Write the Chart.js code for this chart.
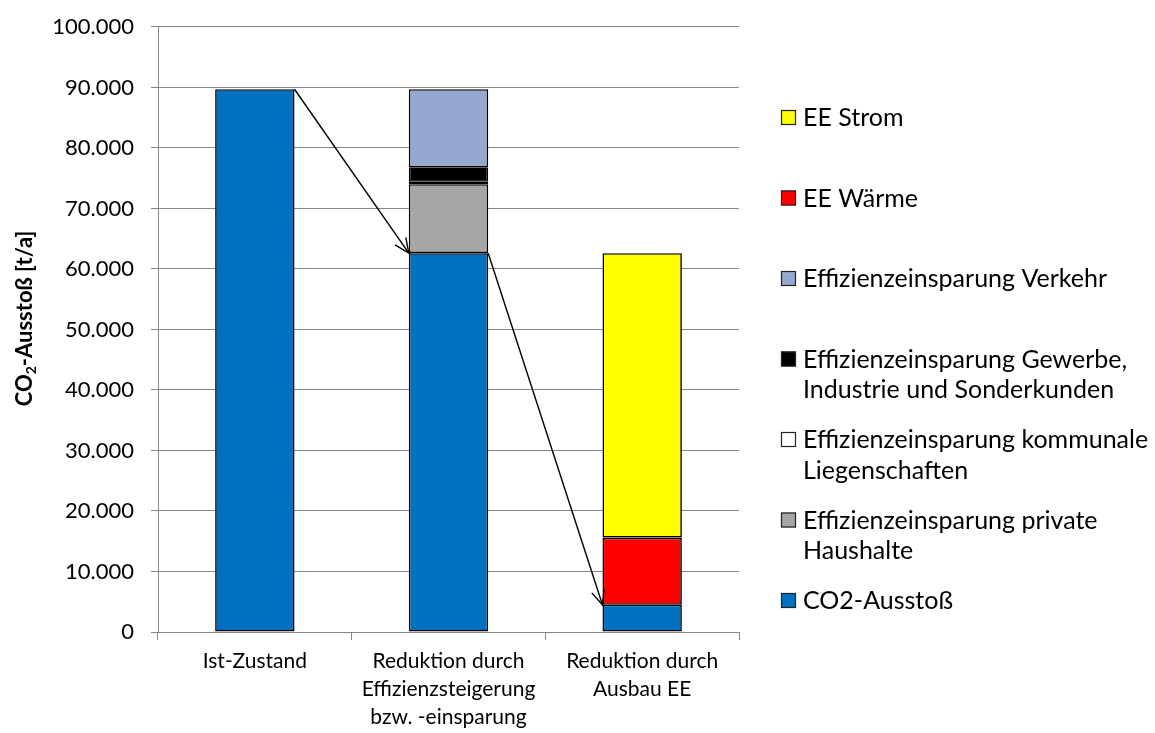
<!DOCTYPE html>
<html>
<head>
<meta charset="utf-8">
<script src="https://cdn.jsdelivr.net/npm/chart.js@4/dist/chart.umd.min.js"></script>
<style>
  html, body { margin: 0; padding: 0; background: #ffffff; }
  #wrap { width: 1155px; height: 733px; }
</style>
</head>
<body>
<div id="wrap"><canvas id="c" width="1155" height="733"></canvas></div>
<script>
// ---- data ----
const categories = [
  ['Ist-Zustand'],
  ['Reduktion durch', 'Effizienzsteigerung', 'bzw. -einsparung'],
  ['Reduktion durch', 'Ausbau EE']
];
const seriesNames = [
  'CO2-Ausstoß',
  'Effizienzeinsparung private Haushalte',
  'Effizienzeinsparung kommunale Liegenschaften',
  'Effizienzeinsparung Gewerbe, Industrie und Sonderkunden',
  'Effizienzeinsparung Verkehr',
  'EE Wärme',
  'EE Strom'
];
const co2Ausstoss      = [89700, 62600, 4500];
const privateHaushalte = [null, 11400, null];
const kommunale        = [null, 400, null];
const gewerbe          = [null, 2400, null];
const verkehr          = [null, 12900, null];
const eeWaerme         = [null, null, 11100];
const eeStrom          = [null, null, 47000];
const yTicks = [0, 10000, 20000, 30000, 40000, 50000, 60000, 70000, 80000, 90000, 100000];
const yTitleParts = ['CO', '2', '-Ausstoß [t/a]'];   // "2" is a subscript

const seriesValues = [co2Ausstoss, privateHaushalte, kommunale, gewerbe, verkehr, eeWaerme, eeStrom];
const seriesColors = ['#0070C0', '#A6A6A6', '#FFFFFF', '#000000', '#95A8D0', '#FF0000', '#FFFF00'];

const FONT = 'Lato, "Liberation Sans", "DejaVu Sans", sans-serif';

function fmtDE(v) {
  return String(Math.round(v)).replace(/\B(?=(\d{3})+(?!\d))/g, '.');
}

// arrows between bars, derived from the CO2 series through the scales
const arrowPlugin = {
  id: 'arrows',
  afterDatasetsDraw(chart) {
    const meta = chart.getDatasetMeta(0);
    const ctx = chart.ctx;
    ctx.save();
    ctx.strokeStyle = '#000';
    ctx.lineWidth = 1.4;
    for (let i = 0; i < meta.data.length - 1; i++) {
      const a = meta.data[i], b = meta.data[i + 1];
      const x1 = a.x + a.width / 2, y1 = a.y;
      const x2 = b.x - b.width / 2, y2 = b.y;
      ctx.beginPath();
      ctx.moveTo(x1, y1);
      ctx.lineTo(x2, y2);
      ctx.stroke();
      const ang = Math.atan2(y2 - y1, x2 - x1);
      const L = 16, spread = 0.42;
      ctx.beginPath();
      ctx.moveTo(x2 - L * Math.cos(ang - spread), y2 - L * Math.sin(ang - spread));
      ctx.lineTo(x2, y2);
      ctx.lineTo(x2 - L * Math.cos(ang + spread), y2 - L * Math.sin(ang + spread));
      ctx.stroke();
    }
    ctx.restore();
  }
};

// y-axis title with a real subscript
const yTitlePlugin = {
  id: 'yTitle',
  afterDraw(chart) {
    const ctx = chart.ctx;
    const big = 'bold 22px ' + FONT, small = 'bold 14px ' + FONT;
    ctx.save();
    ctx.font = big;  const w0 = ctx.measureText(yTitleParts[0]).width;
    ctx.font = small; const w1 = ctx.measureText(yTitleParts[1]).width;
    ctx.font = big;  const w2 = ctx.measureText(yTitleParts[2]).width;
    const total = w0 + w1 + w2;
    const cy = (chart.chartArea.top + chart.chartArea.bottom) / 2 - 11;
    ctx.translate(24, cy);
    ctx.rotate(-Math.PI / 2);
    ctx.fillStyle = '#000';
    ctx.textBaseline = 'alphabetic';
    let x = -total / 2;
    ctx.font = big; ctx.fillText(yTitleParts[0], x, 8); x += w0;
    ctx.font = small; ctx.fillText(yTitleParts[1], x, 12); x += w1;
    ctx.font = big; ctx.fillText(yTitleParts[2], x, 8);
    ctx.restore();
  }
};

// custom legend on the right (reverse order, wrapped text)
const legendPlugin = {
  id: 'sideLegend',
  afterDraw(chart) {
    const ctx = chart.ctx;
    ctx.save();
    const fontSize = 25;
    ctx.font = fontSize + 'px ' + FONT;
    ctx.textBaseline = 'middle';
    const boxX = 781, textX = 803, maxW = 350;
    let y = 117;
    const step = 80.5, lineH = 30.5;
    const ds = chart.data.datasets;
    for (let i = ds.length - 1; i >= 0; i--) {
      const words = ds[i].label.split(' ');
      const lines = [];
      let cur = '';
      for (const w of words) {
        const t = cur ? cur + ' ' + w : w;
        if (ctx.measureText(t).width > maxW && cur) { lines.push(cur); cur = w; }
        else cur = t;
      }
      if (cur) lines.push(cur);
      ctx.fillStyle = ds[i].backgroundColor;
      ctx.fillRect(boxX, y - 7, 15, 15);
      ctx.strokeStyle = '#222';
      ctx.lineWidth = 1.2;
      ctx.strokeRect(boxX + 0.5, y - 6.5, 14, 14);
      ctx.fillStyle = '#000';
      lines.forEach((ln, k) => ctx.fillText(ln, textX, y + 1 + k * lineH));
      y += step;
    }
    ctx.restore();
  }
};

const datasets = seriesNames.map((name, i) => ({
  label: name,
  data: seriesValues[i],
  backgroundColor: seriesColors[i],
  borderColor: '#000000',
  borderWidth: 1.6,
  borderSkipped: false,
  barPercentage: 0.41,
  categoryPercentage: 1.0
}));

new Chart(document.getElementById('c'), {
  type: 'bar',
  data: { labels: categories, datasets },
  options: {
    responsive: false,
    animation: false,
    devicePixelRatio: 1,
    layout: { padding: { left: 40, right: 416, top: 10, bottom: 0 } },
    plugins: {
      legend: { display: false },
      tooltip: { enabled: false }
    },
    scales: {
      x: {
        stacked: true,
        afterFit(scale) { scale.height = 101; },
        grid: { offset: true, drawOnChartArea: false, tickLength: 8, color: '#868686' },
        border: { color: '#868686' },
        ticks: { color: '#000', font: { family: FONT, size: 21, lineHeight: 1.33 }, maxRotation: 0, padding: 7 }
      },
      y: {
        stacked: true,
        min: 0,
        max: 100000,
        afterBuildTicks(scale) { scale.ticks = yTicks.map(v => ({ value: v })); },
        afterFit(scale) { scale.width = 118; },
        grid: { color: '#868686', tickLength: 7, lineWidth: 1 },
        border: { color: '#868686' },
        ticks: {
          color: '#000', font: { family: FONT, size: 22, lineHeight: 0.9 }, padding: 17,
          callback: v => fmtDE(v)
        },
        title: { display: false }
      }
    }
  },
  plugins: [arrowPlugin, yTitlePlugin, legendPlugin]
});
</script>
</body>
</html>
